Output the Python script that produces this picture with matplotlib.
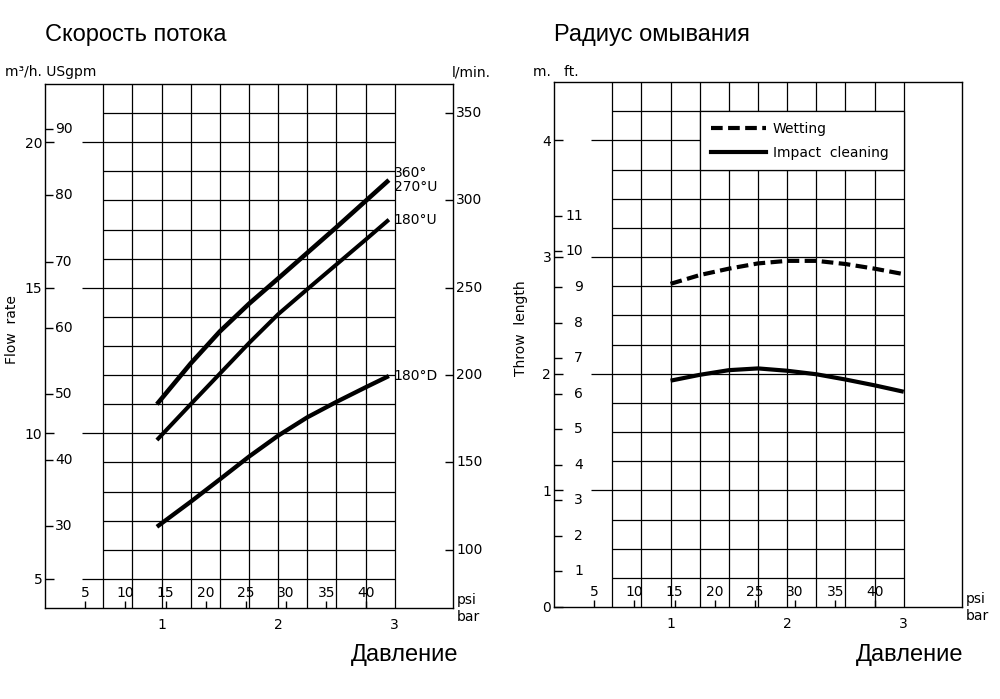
import numpy as np
import matplotlib
matplotlib.use("Agg")
from matplotlib import pyplot as plt
from matplotlib.markers import TICKRIGHT, TICKLEFT, TICKUP
from matplotlib.patches import Rectangle
from matplotlib.lines import Line2D

W, H = 1000, 699

# flow rate chart (m3/h against bar)
flow_bar = [0.96, 1.25, 1.5, 1.75, 2.0, 2.25, 2.5, 2.75, 2.95]
flow_360_270u = [11.0, 12.4, 13.5, 14.45, 15.32, 16.2, 17.08, 17.98, 18.7]
flow_180u = [9.77, 11.0, 12.05, 13.1, 14.09, 14.95, 15.8, 16.65, 17.34]
flow_180d = [6.79, 7.65, 8.42, 9.2, 9.92, 10.55, 11.08, 11.58, 11.97]
flow_labels = ["360°\n270°U", "180°U", "180°D"]

# throw length chart (m against bar)
throw_bar = [1.0, 1.25, 1.5, 1.75, 2.0, 2.25, 2.5, 2.75, 3.0]
throw_wetting = [2.77, 2.845, 2.90, 2.945, 2.967, 2.967, 2.94, 2.90, 2.853]
throw_impact = [1.94, 1.99, 2.03, 2.045, 2.025, 1.995, 1.95, 1.90, 1.845]
throw_labels = ["Wetting", "Impact  cleaning"]

bar_ticks = [1, 2, 3]
psi_ticks = [5, 10, 15, 20, 25, 30, 35, 40]
m3h_ticks = [5, 10, 15, 20]
gpm_ticks = [30, 40, 50, 60, 70, 80, 90]
lpm_ticks = [100, 150, 200, 250, 300, 350]
m_ticks = [0, 1, 2, 3, 4]
ft_ticks = [1, 2, 3, 4, 5, 6, 7, 8, 9, 10, 11]

PSI_PER_BAR = 14.5038
GPM_PER_M3H = 4.40287
LPM_PER_M3H = 1000 / 60
FT_PER_M = 3.28084

FS = 10
TITLE_FONT = ["Liberation Sans", "DejaVu Sans"]
TITLE_FS = 17
plt.rcParams["font.family"] = ["DejaVu Sans"]


def fig_xy(px, py):
    return px / W, 1 - py / H


def draw_grid(ax, ylo, yhi, ystep, majors):
    ax.set_xlim(0, 3.5)
    ax.set_ylim(ylo, yhi)
    for s in ax.spines.values():
        s.set_linewidth(1.0)
    xs = np.arange(0.5, 3.01, 0.25)
    ax.vlines(xs, ylo, yhi, color="k", lw=0.9)
    ys = np.arange(ylo + ystep, yhi - ystep / 2, ystep)
    ax.hlines(ys, 0.5, 3.0, color="k", lw=0.9)
    ax.hlines(majors, 0.32, 0.5, color="k", lw=0.9)

    # bar along the bottom, psi ticks inside
    ax.set_xticks(bar_ticks)
    ax.set_xticklabels([str(b) for b in bar_ticks])
    ax.tick_params(axis="x", length=0, pad=7, labelsize=FS)
    psi_x = [p / PSI_PER_BAR for p in psi_ticks]
    ax.plot(psi_x, [ylo] * len(psi_x), ls="none", marker=TICKUP, ms=5,
            mew=1.0, color="k", clip_on=False)
    for p, x in zip(psi_ticks, psi_x):
        ax.annotate(str(p), (x, ylo), xytext=(0, 15), textcoords="offset pixels",
                    ha="center", va="center", fontsize=FS)
    ax.annotate("psi", (3.5, ylo), xytext=(4, 8), textcoords="offset pixels",
                ha="left", va="center", fontsize=FS)
    ax.annotate("bar", (3.5, ylo), xytext=(4, -9), textcoords="offset pixels",
                ha="left", va="center", fontsize=FS)

    ax.set_yticks(majors)
    ax.tick_params(axis="y", direction="in", length=6.5, width=1.0, pad=2,
                   labelsize=FS)


fig = plt.figure(figsize=(W / 100, H / 100), dpi=100)

# ---------------- left: flow rate ----------------
ax1 = fig.add_axes([45 / W, 1 - 608 / H, 408 / W, 524 / H])
draw_grid(ax1, 4, 22, 1, m3h_ticks)
ax1.set_yticklabels([str(v) for v in m3h_ticks])

gpm_y = [g / GPM_PER_M3H for g in gpm_ticks]
ax1.plot([0] * len(gpm_y), gpm_y, ls="none", marker=TICKRIGHT, ms=5.5,
         mew=1.0, color="k", clip_on=False)
for g, y in zip(gpm_ticks, gpm_y):
    ax1.annotate(str(g), (0, y), xytext=(10, 0), textcoords="offset pixels",
                 ha="left", va="center", fontsize=FS)

lpm_y = [v / LPM_PER_M3H for v in lpm_ticks]
ax1.plot([3.5] * len(lpm_y), lpm_y, ls="none", marker=TICKLEFT, ms=5.8,
         mew=1.0, color="k", clip_on=False)
for v, y in zip(lpm_ticks, lpm_y):
    ax1.annotate(str(v), (3.5, y), xytext=(3, 0), textcoords="offset pixels",
                 ha="left", va="center", fontsize=FS)

for series, lbl, lw in zip([flow_360_270u, flow_180u, flow_180d], flow_labels,
                           [3.3, 2.9, 3.1]):
    ax1.plot(flow_bar, series, color="k", lw=lw, solid_capstyle="butt",
             solid_joinstyle="round", zorder=5)
    ax1.annotate(lbl, (flow_bar[-1], series[-1]), xytext=(5, 0),
                 textcoords="offset pixels", ha="left", va="center",
                 fontsize=FS, linespacing=1.05)

fig.text(*fig_xy(5, 72), "m³/h. USgpm", fontsize=FS, ha="left", va="center")
fig.text(*fig_xy(452, 72), "l/min.", fontsize=FS, ha="left", va="center")
fig.text(*fig_xy(12, 330), "Flow  rate", fontsize=FS, rotation=90,
         ha="center", va="center")
fig.text(*fig_xy(45, 35), "Скорость потока", fontsize=TITLE_FS,
         family=TITLE_FONT, ha="left", va="center")
fig.text(*fig_xy(458, 655), "Давление", fontsize=TITLE_FS, family=TITLE_FONT,
         ha="right", va="center")

# ---------------- right: throw length ----------------
ax2 = fig.add_axes([554 / W, 1 - 607 / H, 408 / W, 525 / H])
draw_grid(ax2, 0, 4.5, 0.25, [1, 2, 3, 4])
ax2.set_yticks(m_ticks)
ax2.set_yticklabels([str(v) for v in m_ticks])

ft_y = [f / FT_PER_M for f in ft_ticks]
ax2.plot([0] * len(ft_y), ft_y, ls="none", marker=TICKRIGHT, ms=5.5,
         mew=1.0, color="k", clip_on=False)
for f, y in zip(ft_ticks, ft_y):
    ax2.annotate(str(f), (0, y), xytext=(29, 0), textcoords="offset pixels",
                 ha="right", va="center", fontsize=FS)

ax2.plot(throw_bar, throw_wetting, color="k", lw=3.0, ls=(0, (2.8, 1.3)),
         dash_capstyle="butt", zorder=5)
ax2.plot(throw_bar, throw_impact, color="k", lw=3.0, solid_capstyle="butt",
         zorder=5)

# legend box sits on the grid
ax2.add_patch(Rectangle((1.25, 3.75), 1.75, 0.5, facecolor="white",
                        edgecolor="k", lw=0.9, zorder=3))
handles = [Line2D([], [], color="k", lw=3.0, ls=(0, (2.8, 1.3))),
           Line2D([], [], color="k", lw=3.0)]
ax2.legend(handles, throw_labels, loc="upper left", bbox_to_anchor=(1.25, 4.25),
           bbox_transform=ax2.transData, frameon=False, fontsize=FS,
           handlelength=4.0, handletextpad=0.45, borderaxespad=0,
           borderpad=0.8, labelspacing=0.72)

fig.text(*fig_xy(533, 72), "m.   ft.", fontsize=FS, ha="left", va="center")
fig.text(*fig_xy(521, 328), "Throw  length", fontsize=FS, rotation=90,
         ha="center", va="center")
fig.text(*fig_xy(554, 35), "Радиус омывания", fontsize=TITLE_FS,
         family=TITLE_FONT, ha="left", va="center")
fig.text(*fig_xy(963, 655), "Давление", fontsize=TITLE_FS, family=TITLE_FONT,
         ha="right", va="center")

fig.savefig("out.png", dpi=100)
